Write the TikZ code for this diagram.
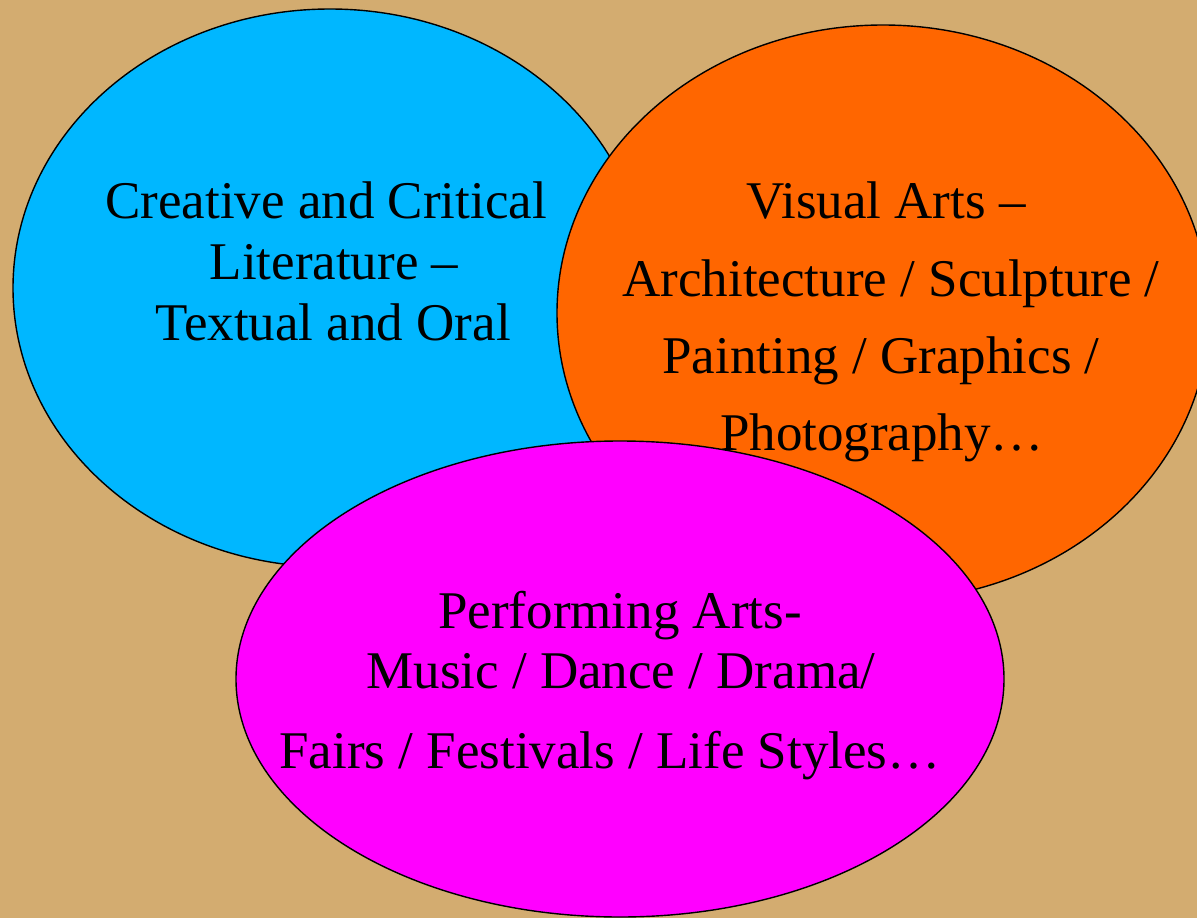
\documentclass[tikz,border=0pt]{standalone}
\usepackage{fontspec}
\setmainfont{Liberation Serif}
\definecolor{bgtan}{RGB}{211,172,112}
\definecolor{bluefill}{RGB}{0,183,255}
\definecolor{orangefill}{RGB}{255,102,0}
\definecolor{magentafill}{RGB}{255,0,255}
\tikzset{
  blob/.style={draw=black, line width=1.4pt},
  txt/.style={anchor=base, inner sep=0pt, font=\fontsize{53}{61}\selectfont, text=black},
}
\begin{document}
\begin{tikzpicture}[x=1pt,y=-1pt]
  \fill[bgtan] (0,0) rectangle (1197,918);
  \useasboundingbox (0,0) rectangle (1197,918);
  \path[blob, fill=bluefill] (330,288) ellipse [x radius=317pt, y radius=279pt];
  \path[blob, fill=orangefill] (883,313) ellipse [x radius=326pt, y radius=288pt];
  \path[blob, fill=magentafill] (620,679) ellipse [x radius=384pt, y radius=238pt];
  % blue texts
  \node[txt] (b1) at (326,218) {Creative and Critical};
  \node[txt] (b2) at (334,279) {Literature –};
  \node[txt] (b3) at (333,340) {Textual and Oral};
  % orange texts
  \node[txt] (o1) at (886,218) {Visual Arts –};
  \node[txt] (o2) at (891,296) {Architecture / Sculpture /};
  \node[txt] (o3) at (881,373) {Painting / Graphics /};
  \node[txt] (o4) at (882,450) {Photography…};
  % magenta texts
  \node[txt] (m1) at (620,628) {Performing Arts-};
  \node[txt] (m2) at (621,688) {Music / Dance / Drama/};
  \node[txt] (m3) at (610,768) {Fairs / Festivals / Life Styles…};
\end{tikzpicture}
\end{document}
